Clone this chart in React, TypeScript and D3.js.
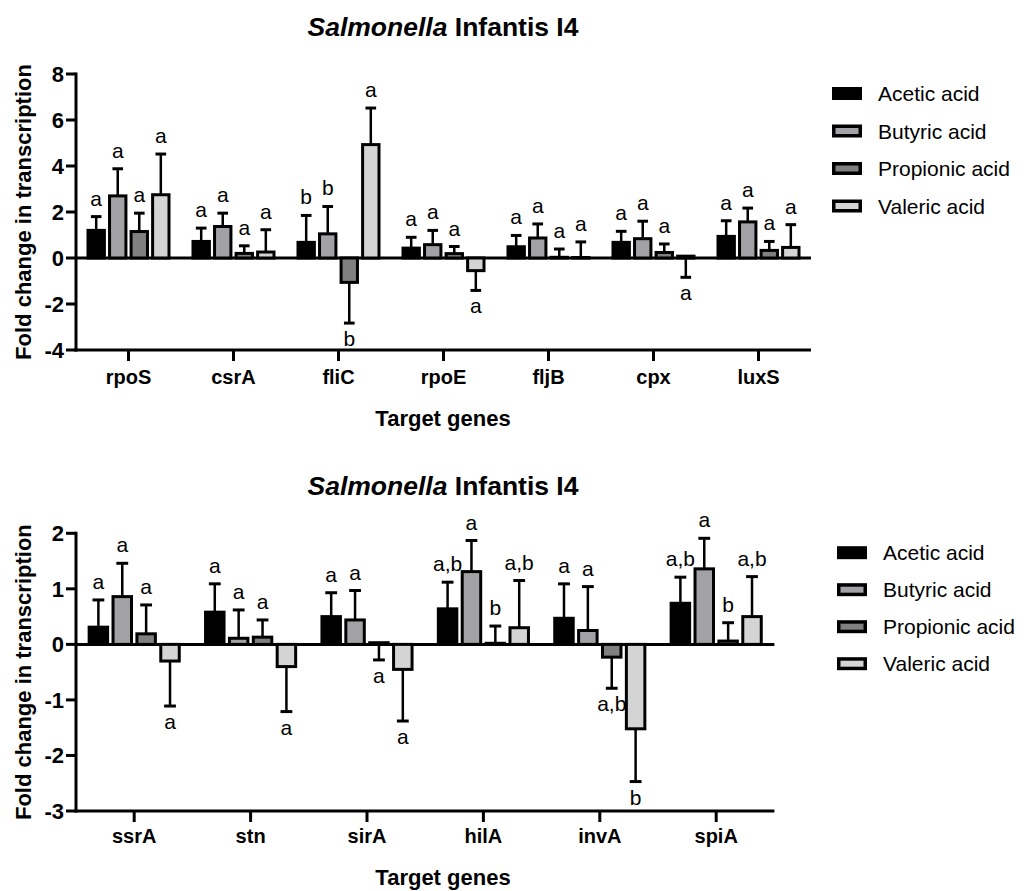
import React from 'react';
import * as d3 from 'd3';

const SERIES = ['Acetic acid', 'Butyric acid', 'Propionic acid', 'Valeric acid'];
const COLORS = ['#000000', '#a2a2a6', '#808080', '#d4d4d4'];
const FONT = '"Liberation Sans", Arial, Helvetica, sans-serif';

// ---- Top chart ----
const topGenes = ['rpoS', 'csrA', 'fliC', 'rpoE', 'fljB', 'cpx', 'luxS'];
const topAcetic = [1.2, 0.72, 0.68, 0.43, 0.49, 0.68, 0.94];
const topAceticErr = [0.6, 0.58, 1.17, 0.47, 0.49, 0.48, 0.68];
const topButyric = [2.7, 1.37, 1.05, 0.58, 0.87, 0.84, 1.57];
const topButyricErr = [1.18, 0.58, 1.19, 0.62, 0.61, 0.76, 0.6];
const topPropionic = [1.15, 0.2, -1.06, 0.19, 0.03, 0.24, 0.33];
const topPropionicErr = [0.8, 0.33, -1.77, 0.31, 0.36, 0.37, 0.39];
const topValeric = [2.75, 0.26, 4.93, -0.55, 0.02, 0.08, 0.46];
const topValericErr = [1.77, 0.97, 1.59, -0.86, 0.68, -0.92, 0.99];
const topAceticLbl = ['a', 'a', 'b', 'a', 'a', 'a', 'a'];
const topButyricLbl = ['a', 'a', 'b', 'a', 'a', 'a', 'a'];
const topPropionicLbl = ['a', 'a', 'b', 'a', 'a', 'a', 'a'];
const topValericLbl = ['a', 'a', 'a', 'a', 'a', 'a', 'a'];
const topYTicks = [-4, -2, 0, 2, 4, 6, 8];

// ---- Bottom chart ----
const botGenes = ['ssrA', 'stn', 'sirA', 'hilA', 'invA', 'spiA'];
const botAcetic = [0.31, 0.58, 0.5, 0.64, 0.47, 0.74];
const botAceticErr = [0.49, 0.51, 0.43, 0.48, 0.62, 0.47];
const botButyric = [0.86, 0.11, 0.44, 1.31, 0.25, 1.36];
const botButyricErr = [0.6, 0.51, 0.53, 0.56, 0.79, 0.55];
const botPropionic = [0.19, 0.13, 0.03, 0.02, -0.23, 0.06];
const botPropionicErr = [0.52, 0.31, -0.31, 0.31, -0.56, 0.33];
const botValeric = [-0.3, -0.4, -0.45, 0.3, -1.52, 0.5];
const botValericErr = [-0.81, -0.81, -0.93, 0.85, -0.95, 0.72];
const botAceticLbl = ['a', 'a', 'a', 'a,b', 'a', 'a,b'];
const botButyricLbl = ['a', 'a', 'a', 'a', 'a', 'a'];
const botPropionicLbl = ['a', 'a', 'a', 'b', 'a,b', 'b'];
const botValericLbl = ['a', 'a', 'a', 'a,b', 'b', 'a,b'];
const botYTicks = [-3, -2, -1, 0, 1, 2];

type ChartProps = {
  genes: string[];
  means: number[][];
  errs: number[][];
  labels: string[][];
  yTicks: number[];
  left: number;
  right: number;
  top: number;
  bottom: number;
  titleY: number;
  tickLabelY: number;
  axisTitleY: number;
  legendSwatchX: number;
  legendTextX: number;
  legendY: number;
  legendStep: number;
};

function Chart(p: ChartProps) {
  const x = d3.scaleBand<string>().domain(p.genes).range([p.left, p.right]).paddingInner(0).paddingOuter(0);
  const bw = x.bandwidth();
  const xs = d3
    .scaleBand<string>()
    .domain(SERIES)
    .range([-bw * 0.4, bw * 0.4])
    .paddingInner(0.1);
  const barW = xs.bandwidth();
  const yMin = d3.min(p.yTicks) as number;
  const yMax = d3.max(p.yTicks) as number;
  const y = d3.scaleLinear().domain([yMin, yMax]).range([p.bottom, p.top]);
  const y0 = y(0);
  const sw = 3;
  const capW = barW * 0.55;
  const yMid = (p.top + p.bottom) / 2;

  return (
    <g fontFamily={FONT}>
      <text x={443} y={p.titleY} textAnchor="middle" fontWeight="bold" fontSize={26.5}>
        <tspan fontStyle="italic">Salmonella</tspan> Infantis I4
      </text>
      {/* zero line */}
      <line x1={p.left} x2={p.right} y1={y0} y2={y0} stroke="#000" strokeWidth={3} />
      {/* bars */}
      {p.genes.map((g, gi) =>
        SERIES.map((s, si) => {
          const v = p.means[si][gi];
          const e = p.errs[si][gi];
          const cx = (x(g) as number) + bw / 2 + (xs(s) as number) + barW / 2;
          const yv = y(v);
          const ye = y(v + e);
          const yTopRect = Math.min(yv, y0);
          const h = Math.abs(yv - y0);
          const lbl = p.labels[si][gi];
          const up = e >= 0;
          return (
            <g key={g + s}>
              <line x1={cx} x2={cx} y1={yv} y2={ye} stroke="#000" strokeWidth={2.5} />
              <line x1={cx - capW / 2} x2={cx + capW / 2} y1={ye} y2={ye} stroke="#000" strokeWidth={3} />
              <rect
                x={cx - barW / 2 + sw / 2}
                y={yTopRect}
                width={barW - sw}
                height={Math.max(h, 0.5)}
                fill={COLORS[si]}
                stroke="#000"
                strokeWidth={sw}
              />
              <text
                x={cx}
                y={up ? ye - 11 : ye + 23}
                textAnchor="middle"
                fontSize={21}
              >
                {lbl}
              </text>
            </g>
          );
        })
      )}
      {/* y axis */}
      <line x1={p.left} x2={p.left} y1={p.top - 1.5} y2={p.bottom + 1.5} stroke="#000" strokeWidth={3} />
      {p.yTicks.map((t) => (
        <g key={t}>
          <line x1={p.left - 10} x2={p.left} y1={y(t)} y2={y(t)} stroke="#000" strokeWidth={3} />
          <text x={p.left - 12} y={y(t)} dy="0.36em" textAnchor="end" fontWeight="bold" fontSize={22}>
            {t}
          </text>
        </g>
      ))}
      {/* x axis */}
      <line x1={p.left - 1.5} x2={p.right} y1={p.bottom} y2={p.bottom} stroke="#000" strokeWidth={3} />
      {p.genes.map((g) => {
        const cx = (x(g) as number) + bw / 2;
        return (
          <g key={g}>
            <line x1={cx} x2={cx} y1={p.bottom} y2={p.bottom + 11} stroke="#000" strokeWidth={3} />
            <text x={cx} y={p.tickLabelY} textAnchor="middle" fontWeight="bold" fontSize={20}>
              {g}
            </text>
          </g>
        );
      })}
      <text x={443} y={p.axisTitleY} textAnchor="middle" fontWeight="bold" fontSize={22}>
        Target genes
      </text>
      <text
        transform={`translate(31,${yMid}) rotate(-90)`}
        textAnchor="middle"
        fontWeight="bold"
        fontSize={22}
      >
        Fold change in transcription
      </text>
      {/* legend */}
      {SERIES.map((s, si) => {
        const cy = p.legendY + si * p.legendStep;
        return (
          <g key={s}>
            <rect
              x={p.legendSwatchX + 1.75}
              y={cy - 6.5 + 1.75}
              width={26.5}
              height={9.5}
              fill={COLORS[si]}
              stroke="#000"
              strokeWidth={3.5}
            />
            <text x={p.legendTextX} y={cy} dy="0.36em" fontSize={21}>
              {s}
            </text>
          </g>
        );
      })}
    </g>
  );
}

export default function App() {
  return (
    <svg
      width={1032}
      height={891}
      style={{ position: 'absolute', left: 0, top: 0, background: '#fff' }}
    >
      <rect x={0} y={0} width={1032} height={891} fill="#fff" />
      <Chart
        genes={topGenes}
        means={[topAcetic, topButyric, topPropionic, topValeric]}
        errs={[topAceticErr, topButyricErr, topPropionicErr, topValericErr]}
        labels={[topAceticLbl, topButyricLbl, topPropionicLbl, topValericLbl]}
        yTicks={topYTicks}
        left={76}
        right={811}
        top={74}
        bottom={350}
        titleY={36}
        tickLabelY={384}
        axisTitleY={426}
        legendSwatchX={832}
        legendTextX={878}
        legendY={93.5}
        legendStep={37.5}
      />
      <Chart
        genes={botGenes}
        means={[botAcetic, botButyric, botPropionic, botValeric]}
        errs={[botAceticErr, botButyricErr, botPropionicErr, botValericErr]}
        labels={[botAceticLbl, botButyricLbl, botPropionicLbl, botValericLbl]}
        yTicks={botYTicks}
        left={76}
        right={774.4}
        top={533.3}
        bottom={811}
        titleY={495}
        tickLabelY={843}
        axisTitleY={885}
        legendSwatchX={837}
        legendTextX={883}
        legendY={552.7}
        legendStep={37}
      />
    </svg>
  );
}
